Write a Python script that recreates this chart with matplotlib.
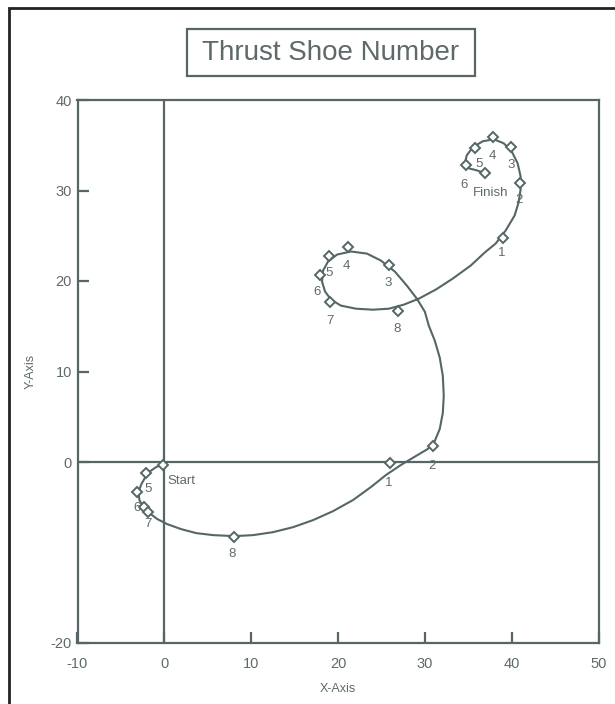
import matplotlib
matplotlib.use("Agg")
import matplotlib.pyplot as plt
from matplotlib.patches import Rectangle

# ---------------- data ----------------
# orbit path
path_x = [0.00, -0.92, -1.61, -2.18, -2.64, -2.99, -2.87, -2.41, -1.72, -0.80,
          0.34, 1.95, 3.68, 5.63, 8.05, 10.23, 12.53, 14.83, 17.13, 19.43,
          21.72, 23.79, 25.52, 27.24, 28.97, 30.34, 31.15, 31.72, 32.07, 32.18,
          32.07, 31.72, 31.15, 30.46, 30.00, 29.08, 27.93, 26.55, 24.94, 23.33,
          21.49, 19.89, 18.85, 18.28, 18.16, 18.51, 19.20, 20.34, 22.07, 24.02,
          25.86, 27.59, 29.31, 31.26, 33.22, 35.29, 36.90, 38.16, 39.31, 40.34,
          40.80, 41.03, 41.03, 40.69, 40.00, 39.08, 37.93, 36.67, 35.52, 34.83,
          34.60, 35.06, 35.98, 36.90]
path_y = [-0.22, -0.55, -1.00, -1.66, -2.44, -3.32, -4.21, -4.98, -5.65, -6.31,
          -6.87, -7.42, -7.86, -8.08, -8.19, -8.08, -7.75, -7.20, -6.42, -5.43,
          -4.21, -2.77, -1.44, -0.33, 0.66, 1.44, 2.33, 3.65, 5.43, 7.31,
          9.52, 11.52, 13.40, 15.06, 16.61, 18.05, 19.49, 21.04, 22.26, 23.03,
          23.26, 22.92, 22.15, 21.15, 19.93, 18.83, 17.94, 17.28, 16.94, 16.83,
          16.94, 17.39, 18.05, 19.05, 20.27, 21.71, 23.15, 24.14, 25.58, 27.24,
          28.68, 30.12, 31.56, 33.00, 34.33, 35.22, 35.66, 35.44, 34.77, 33.89,
          33.00, 32.45, 32.23, 31.89]

# thrust shoe markers
shoe_x = [-0.1, -2.07, -3.10, -2.30, -1.84, 8.05, 25.98, 30.92,
          25.86, 21.15, 18.97, 17.93, 19.08, 26.90,
          38.97, 40.92, 39.89, 37.82, 35.75, 34.71, 36.90]
shoe_y = [-0.33, -1.22, -3.32, -4.98, -5.54, -8.31, -0.11, 1.77,
          21.82, 23.81, 22.81, 20.71, 17.72, 16.72,
          24.70, 30.79, 34.77, 35.88, 34.66, 32.78, 31.89]
shoe_labels = ["Start", "", "5", "6", "7", "8", "1", "2",
               "3", "4", "5", "6", "7", "8",
               "1", "2", "3", "4", "5", "6", "Finish"]

x_ticks = [-10, 0, 10, 20, 30, 40, 50]
y_ticks = [-20, 0, 10, 20, 30, 40]

title = "Thrust Shoe Number"
x_label = "X-Axis"
y_label = "Y-Axis"

# ---------------- style ----------------
# label offsets in pixels (dx, dy) relative to each marker
label_offsets = [(4, -16), (0, 0), (11, 3), (-7, -1), (0, -12), (-2, -17), (-1, -20), (-1, -20),
                 (-1, -18), (-2, -19), (0, -17), (-3, -17), (0, -19), (-1, -18),
                 (-1, -15), (-1, -17), (0, -18), (0, -19), (4, -16), (-2, -20), (-12, -20)]
label_ha = ["left"] + ["center"] * 19 + ["left"]

C = "#566666"
TXT = "#5e6a6a"
FONT = "Liberation Sans"

fig = plt.figure(figsize=(6.15, 7.04), dpi=100)
fig.patch.set_facecolor("white")

ax = fig.add_axes([77.5 / 615, 1 - 643 / 704, 521 / 615, 543 / 704])

ax.set_xlim(-10, 50)
ax.set_ylim(-20, 40)

ax.axhline(0, color=C, lw=1.6, zorder=1)
ax.axvline(0, color=C, lw=1.6, zorder=1)

ax.plot(path_x, path_y, color=C, lw=1.5, zorder=2, solid_joinstyle="round")
ax.plot(shoe_x, shoe_y, linestyle="none", marker="D", ms=5.6, mfc="white",
        mec=C, mew=1.4, zorder=3)

for x, y, lab, off, ha in zip(shoe_x, shoe_y, shoe_labels, label_offsets, label_ha):
    if lab:
        ax.annotate(lab, (x, y), xytext=off, textcoords="offset pixels",
                    ha=ha, va="center", fontsize=9.5, color=TXT, family=FONT,
                    zorder=4)

for s in ax.spines.values():
    s.set_color(C)
    s.set_linewidth(1.6)

ax.set_xticks(x_ticks)
ax.set_xticklabels([str(v) for v in x_ticks])
ax.set_yticks(y_ticks)
ax.set_yticklabels([str(v) for v in y_ticks])
ax.tick_params(axis="both", direction="in", length=8, width=1.6, color=C,
               labelcolor=TXT, labelsize=10.5)
ax.tick_params(axis="x", pad=10)
ax.tick_params(axis="y", pad=4)
for lbl in ax.get_xticklabels() + ax.get_yticklabels():
    lbl.set_family(FONT)

ax.set_xlabel(x_label, fontsize=9, color=TXT, family=FONT, labelpad=9)
ax.set_ylabel(y_label, fontsize=9, color=TXT, family=FONT, labelpad=10)

# title box
fig.patches.append(Rectangle((187 / 615, 1 - 76 / 704), 288 / 615, 47 / 704,
                             transform=fig.transFigure, fill=False,
                             edgecolor=C, lw=1.6))
fig.text(331 / 615, 1 - 53 / 704, title, ha="center", va="center",
         fontsize=20, color=TXT, family=FONT)

# outer frame (left and top edges visible)
fig.patches.append(Rectangle((9 / 615, -0.2), 1.2, 1.2 - 8 / 704,
                             transform=fig.transFigure, fill=False,
                             edgecolor="#222222", lw=2.0, clip_on=False))

fig.savefig("out.png", dpi=100, facecolor="white")
